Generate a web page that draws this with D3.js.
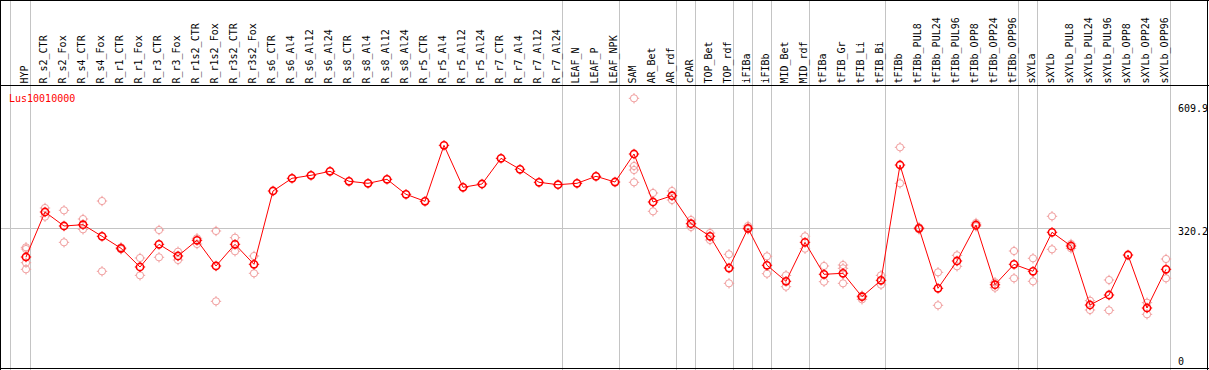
<!DOCTYPE html>
<html>
<head>
<meta charset="utf-8">
<script src="https://cdn.jsdelivr.net/npm/d3@7"></script>
<style>
  html, body { margin: 0; padding: 0; background: #fff; }
  svg { display: block; }
  text { font-family: "DejaVu Sans Mono", "Liberation Mono", monospace; font-size: 10px; }
</style>
</head>
<body>
<svg id="chart" width="1209" height="370"></svg>
<script>
const geneLabel = "Lus10010000";

const categories = ["HYP","R_s2_CTR","R_s2_Fox","R_s4_CTR","R_s4_Fox","R_r1_CTR","R_r1_Fox","R_r3_CTR","R_r3_Fox",
  "R_r1s2_CTR","R_r1s2_Fox","R_r3s2_CTR","R_r3s2_Fox","R_s6_CTR","R_s6_Al4","R_s6_Al12","R_s6_Al24",
  "R_s8_CTR","R_s8_Al4","R_s8_Al12","R_s8_Al24","R_r5_CTR","R_r5_Al4","R_r5_Al12","R_r5_Al24",
  "R_r7_CTR","R_r7_Al4","R_r7_Al12","R_r7_Al24","LEAF_N","LEAF_P","LEAF_NPK","SAM","AR_Bet","AR_rdf",
  "cPAR","TOP_Bet","TOP_rdf","iFIBa","iFIBb","MID_Bet","MID_rdf","tFIBa","tFIB_Gr","tFIB_Li","tFIB_Bi",
  "tFIBb","tFIBb_PUL8","tFIBb_PUL24","tFIBb_PUL96","tFIBb_OPP8","tFIBb_OPP24","tFIBb_OPP96",
  "sXYLa","sXYLb","sXYLb_PUL8","sXYLb_PUL24","sXYLb_PUL96","sXYLb_OPP8","sXYLb_OPP24","sXYLb_OPP96"];

const means = [248.0, 358.9, 324.4, 327.6, 299.0, 269.5, 223.4, 279.3, 250.5,
  289.2, 225.9, 279.3, 230.0, 410.6, 441.9, 449.2, 459.1,
  434.5, 429.5, 439.4, 402.5, 385.2, 523.1, 419.7, 427.8,
  491.1, 464.0, 432.0, 426.1, 429.5, 446.8, 432.7, 501.7, 383.5, 399.0,
  330.0, 299.0, 220.9, 318.7, 227.6, 188.2, 284.2, 205.4, 207.9, 150.2, 190.6,
  474.6, 318.7, 170.9, 238.2, 326.8, 179.8, 230.0,
  212.8, 308.9, 275.1, 129.8, 154.4, 252.9, 122.4, 217.7];

const replicates = [
  [271.9, 267.7, 234.0, 217.7],
  [368.7, 347.3], [363.0, 284.2], [341.6, 316.2], [385.9, 212.8],
  [271.9, 267.1], [245.6, 202.9], [314.5, 247.3], [261.1, 240.6],
  [294.1, 280.0], [312.1, 138.9], [295.6, 262.1], [250.5, 207.9],
  [], [], [], [], [], [], [], [], [], [], [], [], [], [], [], [], [], [], [],
  [638.9, 472.2, 462.3, 432.0], [405.7, 360.6], [410.6, 388.4],
  [339.2, 321.9], [307.1, 289.9], [254.7, 183.2], [324.4, 316.2], [249.7, 206.9],
  [202.9, 174.9], [299.0, 268.5], [225.9, 187.2], [228.3, 220.2, 183.2], [152.7, 143.8], [202.9, 179.8],
  [518.2, 429.5], [321.2, 316.2], [210.3, 129.1], [252.2, 225.1], [331.8, 323.6], [185.7, 172.4], [262.8, 195.6],
  [244.8, 188.2], [348.3, 267.0], [280.0, 269.5], [140.4, 117.5], [191.4, 116.7], [], [135.5, 106.9], [243.1, 195.6]
];

const groupEnds = ["HYP","R_r7_Al24","LEAF_NPK","AR_rdf","cPAR","TOP_rdf","iFIBa","iFIBb","MID_rdf",
  "tFIB_Bi","tFIBb_OPP96","sXYLa","sXYLb_OPP96"];

const yTicks = [0, 320.2, 609.9];
const yMax = 609.9;

const W = 1209, H = 370;
const svg = d3.select("#chart");

const x = d3.scaleBand().domain(categories).range([11.5, 1170.5]).paddingInner(0).paddingOuter(0);
const px = c => x(c) + 14.5;
const y = d3.scaleLinear().domain([0, yMax]).range([357.7, 357.7 - yMax * 0.406]);

const grey = "#c4c4c4";
const pink = "#f09c9c";

// horizontal grid line
svg.append("line")
  .attr("x1", 1).attr("x2", x.range()[1])
  .attr("y1", Math.round(y(320.2)) + 0.5).attr("y2", Math.round(y(320.2)) + 0.5)
  .attr("stroke", grey).attr("stroke-width", 1);

// vertical group separators
const seps = [x(categories[0]) - 1].concat(groupEnds.map(c => x(c) + x.bandwidth()));
svg.append("g").selectAll("line").data(seps).join("line")
  .attr("x1", d => d).attr("x2", d => d)
  .attr("y1", 0).attr("y2", H)
  .attr("stroke", grey).attr("stroke-width", 1);

// frame
svg.append("line").attr("x1", 0).attr("x2", W).attr("y1", 0.5).attr("y2", 0.5).attr("stroke", "#000");
svg.append("line").attr("x1", 0).attr("x2", W).attr("y1", 85.5).attr("y2", 85.5).attr("stroke", "#000");
svg.append("line").attr("x1", 0).attr("x2", W).attr("y1", 368.5).attr("y2", 368.5).attr("stroke", "#000");
svg.append("line").attr("x1", 0.5).attr("x2", 0.5).attr("y1", 0).attr("y2", H).attr("stroke", "#000");
svg.append("line").attr("x1", 1207.5).attr("x2", 1207.5).attr("y1", 0).attr("y2", H).attr("stroke", "#000");

// column labels
svg.append("g").selectAll("text").data(categories).join("text")
  .attr("transform", d => `translate(${px(d) + 2},83.5) rotate(-90)`)
  .attr("text-anchor", "start")
  .attr("fill", "#000")
  .text(d => d);

// y tick labels
svg.append("g").selectAll("text").data(yTicks).join("text")
  .attr("x", 1178)
  .attr("y", d => y(d) + (d === yMax ? 1.5 : 7.5))
  .attr("fill", "#000")
  .text(d => d);

// gene label
svg.append("text").attr("x", 9).attr("y", 101.5).attr("fill", "red").text(geneLabel);

function marker(g, cx, cy, color, sw) {
  const r = 3.6;
  g.append("circle").attr("cx", cx).attr("cy", cy).attr("r", r)
    .attr("fill", "none").attr("stroke", color).attr("stroke-width", sw);
  const t = [[0, -1], [0, 1], [-1, 0], [1, 0]];
  t.forEach(([dx, dy]) => {
    g.append("line")
      .attr("x1", cx + dx * r).attr("y1", cy + dy * r)
      .attr("x2", cx + dx * (r + 1.6)).attr("y2", cy + dy * (r + 1.6))
      .attr("stroke", color).attr("stroke-width", 1);
  });
}

// replicates
const repG = svg.append("g");
categories.forEach((c, i) => {
  replicates[i].forEach(v => marker(repG, px(c), y(v), pink, 1));
});

// mean line
const line = d3.line().x((d, i) => px(categories[i])).y(d => y(d));
svg.append("path").datum(means).attr("d", line)
  .attr("fill", "none").attr("stroke", "red").attr("stroke-width", 1);

// mean markers
const meanG = svg.append("g");
categories.forEach((c, i) => marker(meanG, px(c), y(means[i]), "red", 1.6));
</script>
</body>
</html>
